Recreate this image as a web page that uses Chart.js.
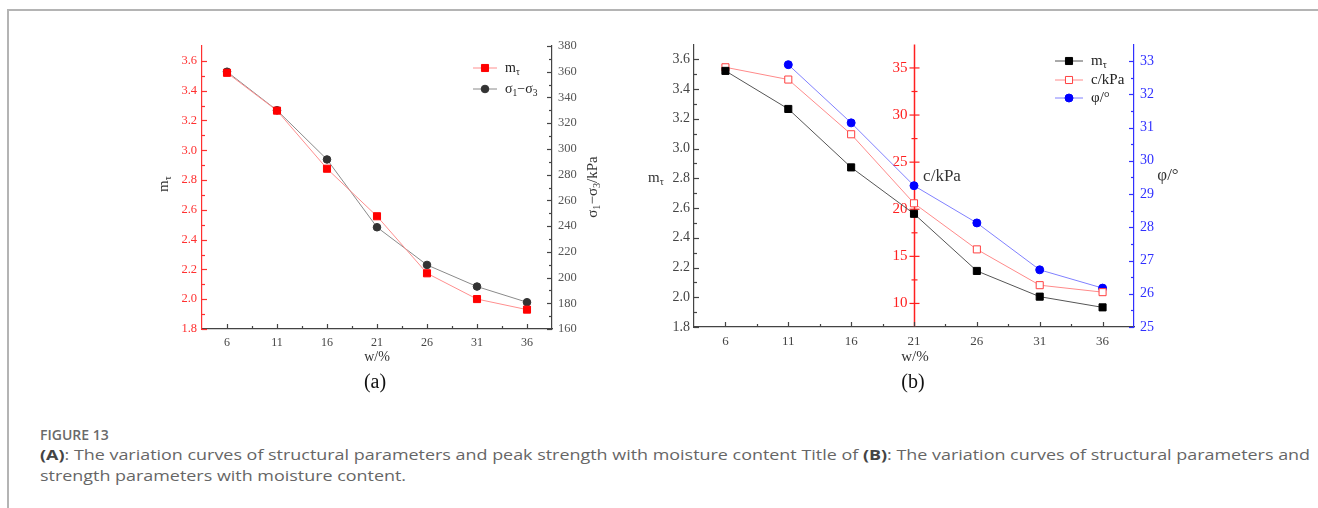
<!DOCTYPE html>
<html>
<head>
<meta charset="utf-8">
<script src="https://cdn.jsdelivr.net/npm/chart.js@4/dist/chart.umd.min.js"></script>
<style>
  html, body { margin: 0; padding: 0; background: #fff; overflow: hidden; width: 1318px; height: 508px; }
  .frame { position: absolute; left: 7px; top: 9px; width: 1400px; height: 600px;
           border-left: 2px solid #b4b4b4; border-top: 2px solid #b4b4b4; }
  .panel { position: absolute; }
  .tag { position: absolute; width: 100px; text-align: center; font: 20px "Liberation Serif", serif; color: #111; line-height: 24px; }
  .caption { position: absolute; left: 40px; top: 426px; font-family: "Open Sans", sans-serif; color: #666; white-space: nowrap; }
  .caption .fig { font-size: 14px; font-weight: 600; line-height: 18px; color: #6a6a6a; }
  .caption .txt { font-size: 14px; line-height: 21px; transform: scaleX(1.28); transform-origin: 0 0; }
  .caption b { color: #444; font-weight: 700; }
</style>
</head>
<body>
<div class="frame"></div>

<div class="panel" style="left:140px; top:30px;"><canvas id="chartA" width="480" height="340"></canvas></div>
<div class="panel" style="left:630px; top:30px;"><canvas id="chartB" width="580" height="340"></canvas></div>

<div class="tag" style="left:325px; top:369px;">(a)</div>
<div class="tag" style="left:863px; top:369px;">(b)</div>

<div class="caption">
  <div class="fig">FIGURE 13</div>
  <div class="txt"><b>(A)</b>: The variation curves of structural parameters and peak strength with moisture content Title of <b>(B)</b>: The variation curves of structural parameters and<br>strength parameters with moisture content.</div>
</div>

<script>
// ===========================
// Data
// ===========================
const moisture = [6, 11, 16, 21, 26, 31, 36];

// (a) structural parameter and peak strength
const mtA = [3.52, 3.266, 2.876, 2.557, 2.174, 2.001, 1.93];
const peakA = [360, 330, 291.8, 239.1, 209.8, 193, 180.8];

// (b) structural parameter and strength parameters
const mtB = [3.522, 3.266, 2.873, 2.561, 2.177, 2.004, 1.932];
const cohesionB = [35.07, 33.77, 27.96, 20.63, 15.74, 11.94, 11.2];
const frictionB = [null, 32.89, 31.14, 29.25, 28.13, 26.72, 26.17];

// tick labels
const mtTicks = [1.8, 2.0, 2.2, 2.4, 2.6, 2.8, 3.0, 3.2, 3.4, 3.6];
const peakTicks = [160, 180, 200, 220, 240, 260, 280, 300, 320, 340, 360, 380];
const cTicks = [10, 15, 20, 25, 30, 35];
const phiTicks = [25, 26, 27, 28, 29, 30, 31, 32, 33];

// ===========================
// Helpers
// ===========================
const SERIF = '"Liberation Serif", "DejaVu Serif", serif';
const xIdx = moisture.map((m, i) => i);

function midpoints(arr){
  const out = [];
  for(let i=0;i<arr.length-1;i++) out.push((arr[i]+arr[i+1])/2);
  return out;
}

// "_" marks the next char as a subscript
function drawRich(ctx, str, x, y, size, color, align){
  const parts = [];
  for(let i=0;i<str.length;i++){
    if(str[i]==="_"){ parts.push({t:str[i+1], sub:true}); i++; }
    else parts.push({t:str[i], sub:false});
  }
  let w = 0;
  parts.forEach(p=>{
    ctx.font = (p.sub ? size*0.68 : size) + "px " + SERIF;
    p.w = ctx.measureText(p.t).width;
    w += p.w;
  });
  let cx = align==="center" ? x - w/2 : (align==="right" ? x - w : x);
  ctx.fillStyle = color;
  ctx.textAlign = "left";
  ctx.textBaseline = "middle";
  parts.forEach(p=>{
    ctx.font = (p.sub ? size*0.68 : size) + "px " + SERIF;
    ctx.fillText(p.t, cx, p.sub ? y + size*0.32 : y);
    cx += p.w;
  });
}

function fixTicks(list){ return s => { s.ticks = list.map(v=>({value:v})); }; }

// inward ticks, mid axis, titles and legend
const decoPlugin = {
  id: "deco",
  beforeDatasetsDraw(chart, args, opts){
    const m = opts.midAxis;
    if(!m) return;
    const ctx = chart.ctx, area = chart.chartArea;
    const s = chart.scales[m.id];
    const px = Math.round(chart.scales.x.getPixelForValue(m.at)) + 0.5;
    ctx.save();
    ctx.strokeStyle = m.color;
    ctx.lineWidth = 1.5;
    ctx.beginPath(); ctx.moveTo(px, area.top); ctx.lineTo(px, area.bottom); ctx.stroke();
    ctx.lineWidth = 1.2;
    m.major.forEach(v=>{
      const py = s.getPixelForValue(v);
      ctx.beginPath(); ctx.moveTo(px-5, py); ctx.lineTo(px+5, py); ctx.stroke();
    });
    midpoints(m.major).forEach(v=>{
      const py = s.getPixelForValue(v);
      ctx.beginPath(); ctx.moveTo(px-3, py); ctx.lineTo(px+3, py); ctx.stroke();
    });
    ctx.font = m.size + "px " + SERIF;
    ctx.fillStyle = m.color;
    ctx.textAlign = "right";
    ctx.textBaseline = "middle";
    m.major.forEach(v=> ctx.fillText(String(v), px-7, s.getPixelForValue(v)));
    ctx.restore();
  },
  afterDraw(chart, args, opts){
    const ctx = chart.ctx, area = chart.chartArea;
    ctx.save();
    (opts.ticks||[]).forEach(t=>{
      const s = chart.scales[t.id];
      ctx.strokeStyle = t.color;
      ctx.lineWidth = 1.2;
      const draw = (v, len)=>{
        const p = Math.round(s.getPixelForValue(v)) + 0.5;
        ctx.beginPath();
        if(s.isHorizontal()){
          ctx.moveTo(p, area.bottom); ctx.lineTo(p, area.bottom - len);
        } else {
          const x0 = s.position==="left" ? area.left : area.right;
          const d = s.position==="left" ? 1 : -1;
          ctx.moveTo(x0, p); ctx.lineTo(x0 + d*len, p);
        }
        ctx.stroke();
      };
      t.major.forEach(v=>draw(v, 5));
      midpoints(t.major).forEach(v=>draw(v, 3));
    });
    (opts.titles||[]).forEach(tt=>{
      ctx.save();
      ctx.translate(tt.x, tt.y);
      if(tt.rot) ctx.rotate(tt.rot);
      drawRich(ctx, tt.text, 0, 0, tt.size, tt.color || "#333", "center");
      ctx.restore();
    });
    const lg = opts.legend;
    if(lg){
      chart.data.datasets.forEach((ds, i)=>{
        const y = lg.rows[i];
        ctx.strokeStyle = ds.borderColor;
        ctx.lineWidth = ds.borderWidth;
        ctx.beginPath(); ctx.moveTo(lg.x1, y); ctx.lineTo(lg.x2, y); ctx.stroke();
        ctx.fillStyle = ds.pointBackgroundColor;
        ctx.strokeStyle = ds.pointBorderColor;
        ctx.lineWidth = 1;
        Chart.helpers.drawPoint(ctx, {pointStyle: ds.pointStyle, radius: ds.pointRadius, rotation: 0, borderWidth: 1}, (lg.x1+lg.x2)/2, y);
        drawRich(ctx, ds.label, lg.tx, y, lg.size, "#222", "left");
      });
    }
    ctx.restore();
  }
};

function yScale(pos, min, max, list, width, color, borderColor, fmt, pad, size){
  return {
    type: "linear", position: pos, min, max,
    grid: { drawOnChartArea: false, drawTicks: false },
    border: { color: borderColor, width: 1.2 },
    afterBuildTicks: fixTicks(list),
    afterFit: s => { s.width = width; },
    ticks: { color, font: { family: SERIF, size }, padding: pad, callback: fmt }
  };
}

function xScale(height, size){
  return {
    type: "category", offset: true,
    grid: { drawOnChartArea: false, drawTicks: false, offset: false },
    border: { color: "#444", width: 1.2 },
    afterFit: s => { s.height = height; },
    ticks: { color: "#444", font: { family: SERIF, size }, padding: 7, autoSkip: false, maxRotation: 0 }
  };
}

// ===========================
// Chart (a)
// ===========================
new Chart(document.getElementById("chartA"), {
  type: "line",
  data: {
    labels: moisture.map(String),
    datasets: [
      { label: "m_τ", data: mtA, yAxisID: "y",
        borderColor: "#ff8f8f", borderWidth: 1, pointStyle: "rect", pointRadius: 5, pointHoverRadius: 5,
        pointBackgroundColor: "#ff0000", pointBorderColor: "#ff0000", tension: 0 },
      { label: "σ_1−σ_3", data: peakA, yAxisID: "y2",
        borderColor: "#8a8a8a", borderWidth: 1, pointStyle: "circle", pointRadius: 3.8, pointHoverRadius: 3.8,
        pointBackgroundColor: "#333333", pointBorderColor: "#333333", tension: 0 }
    ]
  },
  options: {
    responsive: false, animation: false,
    layout: { padding: { top: 16, left: 0, right: 0, bottom: 0 } },
    plugins: {
      legend: { display: false }, tooltip: { enabled: false },
      deco: {
        ticks: [
          { id: "x", major: xIdx, color: "#444" },
          { id: "y", major: mtTicks, color: "#ff3030" },
          { id: "y2", major: peakTicks, color: "#444" }
        ],
        titles: [
          { text: "m_τ", x: 24, y: 154, size: 15, rot: -Math.PI/2 },
          { text: "w/%", x: 237, y: 327, size: 14 },
          { text: "σ_1−σ_3/kPa", x: 453, y: 157, size: 15, rot: -Math.PI/2 }
        ],
        legend: { x1: 333, x2: 357, tx: 365, rows: [38, 59], size: 14 }
      }
    },
    scales: {
      x: xScale(41, 12),
      y: yScale("left", 1.8, 3.7, mtTicks, 62, "#ff3030", "#ff3030", v => v.toFixed(1), 5, 12.5),
      y2: yScale("right", 160, 380, peakTicks, 68, "#555", "#444", v => String(v), 6, 12.5)
    }
  },
  plugins: [decoPlugin]
});

// ===========================
// Chart (b)
// ===========================
new Chart(document.getElementById("chartB"), {
  type: "line",
  data: {
    labels: moisture.map(String),
    datasets: [
      { label: "m_τ", data: mtB, yAxisID: "y",
        borderColor: "#555555", borderWidth: 1, pointStyle: "rect", pointRadius: 5, pointHoverRadius: 5,
        pointBackgroundColor: "#000000", pointBorderColor: "#000000", tension: 0 },
      { label: "c/kPa", data: cohesionB, yAxisID: "yc",
        borderColor: "#ff8a8a", borderWidth: 1, pointStyle: "rect", pointRadius: 5, pointHoverRadius: 5,
        pointBackgroundColor: "#ffffff", pointBorderColor: "#ff4040", pointBorderWidth: 1, tension: 0 },
      { label: "φ/°", data: frictionB, yAxisID: "y2",
        borderColor: "#8080ff", borderWidth: 1, pointStyle: "circle", pointRadius: 4, pointHoverRadius: 4,
        pointBackgroundColor: "#0000ff", pointBorderColor: "#0000ff", tension: 0, spanGaps: false }
    ]
  },
  options: {
    responsive: false, animation: false,
    layout: { padding: { top: 13, left: 0, right: 0, bottom: 0 } },
    plugins: {
      legend: { display: false }, tooltip: { enabled: false },
      deco: {
        midAxis: { id: "yc", at: moisture.indexOf(21), major: cTicks, color: "#ff2020", size: 15 },
        ticks: [
          { id: "x", major: xIdx, color: "#444" },
          { id: "y", major: mtTicks, color: "#444" },
          { id: "y2", major: phiTicks, color: "#3030ff" }
        ],
        titles: [
          { text: "m_τ", x: 26, y: 148, size: 15 },
          { text: "w/%", x: 285, y: 327, size: 15 },
          { text: "c/kPa", x: 312, y: 147, size: 17 },
          { text: "φ/°", x: 538, y: 146, size: 17 }
        ],
        legend: { x1: 425, x2: 453, tx: 461, rows: [31, 50, 68], size: 15 }
      }
    },
    scales: {
      x: xScale(43, 13),
      y: yScale("left", 1.8, 3.7, mtTicks, 64, "#444", "#444", v => v.toFixed(1), 4, 14),
      yc: { type: "linear", display: false, min: 7.5, max: 37.5 },
      y2: yScale("right", 25, 33.5, phiTicks, 76, "#3030ff", "#3030ff", v => String(v), 6, 14)
    }
  },
  plugins: [decoPlugin]
});
</script>
</body>
</html>
